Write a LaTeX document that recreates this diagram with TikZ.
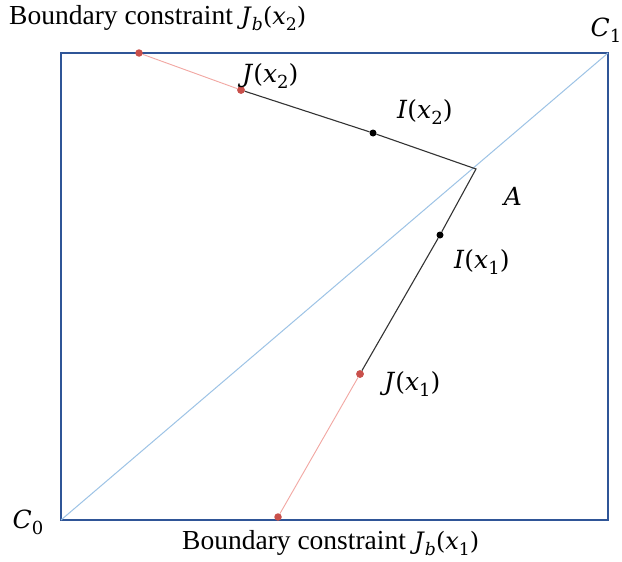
\documentclass[tikz,border=0pt]{standalone}
\usepackage{fontspec}
\usepackage{graphicx}
\setmainfont{Liberation Serif}
\newfontfamily\dvs{DejaVu Serif}
\newcommand\mlab[3]{{\dvs\textit{#1}(\textit{#2}\raisebox{-.25em}{\scalebox{.72}{#3}})}}
\newcommand\blab[3]{{\dvs\textit{#1}\raisebox{-.25em}{\scalebox{.72}{\textit{b}}}(\textit{#2}\raisebox{-.25em}{\scalebox{.72}{#3}})}}
\newcommand\cl[1]{{\dvs\textit{C}\raisebox{-.25em}{\scalebox{.72}{#1}}}}
\begin{document}
\begin{tikzpicture}[x=1pt,y=-1pt,
  boxline/.style={draw=boxblue,line width=2.8pt},
  diag/.style={draw=diagblue,line width=1pt},
  blk/.style={draw=black!80,line width=1.1pt},
  redl/.style={draw=redline,line width=0.9pt},
  bdot/.style={circle,fill=black,inner sep=0pt,minimum size=7pt},
  rdot/.style={circle,fill=reddot,inner sep=0pt,minimum size=7.5pt},
  lbl/.style={inner sep=1pt,font=\fontsize{27.5}{32}\selectfont},
  mlbl/.style={inner sep=1pt,font=\fontsize{25}{30}\selectfont}]
\definecolor{boxblue}{HTML}{2F5597}
\definecolor{diagblue}{HTML}{9DC3E6}
\definecolor{redline}{HTML}{F2A7A2}
\definecolor{reddot}{HTML}{C9504B}
\useasboundingbox (0,0) rectangle (622,562);
\fill[white] (0,0) rectangle (622,562);
\coordinate (BL) at (61,520);
\coordinate (TR) at (608,53);
\draw[boxline] (BL) rectangle (TR);
\draw[diag] (BL) -- (TR);
\coordinate (A) at (476,169);
\node[rdot] (Jb2) at (139,53) {};
\node[rdot] (J2) at (241,90) {};
\node[bdot] (I2) at (373,133) {};
\node[bdot] (I1) at (440,235) {};
\node[rdot] (J1) at (360,374) {};
\node[rdot] (Jb1) at (278,517) {};
\draw[redl] (Jb2) -- (J2);
\draw[blk] (J2) -- (I2) -- (A) -- (I1) -- (J1);
\draw[redl] (J1) -- (Jb1);
\node[rdot] at (J2) {};
\node[rdot] at (J1) {};
\node[lbl,anchor=west] (t2) at (8,18) {Boundary constraint\hspace{0.3em}{\fontsize{24}{28}\selectfont\blab{J}{x}{2}}};
\node[lbl,anchor=west] (t1) at (181,543) {Boundary constraint\hspace{0.3em}{\fontsize{24}{28}\selectfont\blab{J}{x}{1}}};
\node[mlbl] (c1) at (606,30) {\cl{1}};
\node[mlbl] (c0) at (28,522) {\cl{0}};
\node[mlbl,anchor=west] (lj2) at (241,76) {\mlab{J}{x}{2}};
\node[mlbl,anchor=west] (li2) at (396,112) {\mlab{I}{x}{2}};
\node[mlbl] (la) at (513,196) {{\dvs\textit{A}}};
\node[mlbl,anchor=west] (li1) at (453,262) {\mlab{I}{x}{1}};
\node[mlbl,anchor=west] (lj1) at (383,384) {\mlab{J}{x}{1}};
\end{tikzpicture}
\end{document}
